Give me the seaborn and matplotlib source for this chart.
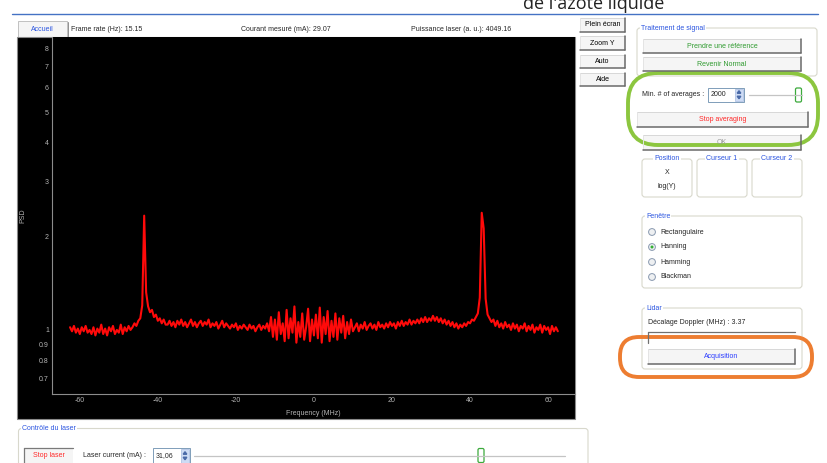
import numpy as np
import matplotlib
matplotlib.use("Agg")
import matplotlib.pyplot as plt
from matplotlib.patches import Rectangle, FancyBboxPatch, Circle, Polygon
from matplotlib.ticker import FixedLocator, FixedFormatter, MultipleLocator, NullLocator
import seaborn as sns

# --- spectre lu sur la capture : -62.5 -> 62.5 MHz, pas de 0.5 MHz ---
freq_start, freq_stop, freq_step = -62.5, 62.5, 0.5

# -62.5 .. -47.0 : ligne de base
psd_seg1 = [1.02, 0.99, 1.03, 0.98, 1.01, 0.97, 1.02, 0.99,
            1.03, 0.98, 1.00, 0.97, 1.02, 0.96, 1.01, 0.98,
            1.04, 0.97, 1.01, 0.96, 1.02, 0.99, 1.03, 0.97,
            1.00, 0.98, 1.04, 0.97, 1.02, 0.99, 1.03, 1.00]
# -46.5 .. -38.0 : pic de gauche
psd_seg2 = [1.02, 1.05, 1.03, 1.07, 1.09, 1.20, 2.33, 1.32, 1.19,
            1.14, 1.16, 1.10, 1.12, 1.07, 1.09, 1.05, 1.08, 1.04]
# -37.5 .. -11.5
psd_seg3 = [1.04, 1.07, 1.03, 1.06, 1.02, 1.07, 1.04, 1.08,
            1.03, 1.06, 1.02, 1.05, 1.08, 1.03, 1.06, 1.02,
            1.05, 1.07, 1.03, 1.06, 1.04, 1.08, 1.02, 1.05,
            1.03, 1.06, 1.01, 1.04, 1.07, 1.02, 1.05, 1.03,
            1.01, 1.04, 1.02, 1.05, 1.00, 1.03, 1.01, 1.04,
            1.02, 1.00, 1.04, 1.01, 1.03, 0.99, 1.02, 1.04,
            1.00, 1.03, 1.01, 1.05, 0.99]
# -11.0 .. 10.0 : zone bruitée autour de 0
psd_seg4 = [1.10, 0.95, 1.08, 0.93, 1.14, 0.97, 1.05, 0.92,
            1.16, 0.94, 1.09, 0.98, 1.19, 0.91, 1.06, 0.95,
            1.13, 0.93, 1.02, 1.17, 0.92, 1.08, 0.96, 1.12,
            0.94, 1.18, 0.91, 1.10, 0.97, 1.15, 0.92, 1.07,
            0.95, 1.13, 0.93, 1.09, 0.98, 1.11, 0.94, 1.06,
            0.97, 1.08, 0.99]
# 10.5 .. 41.5
psd_seg5 = [1.02, 1.05, 0.99, 1.04, 1.01, 1.06, 1.00, 1.03,
            1.05, 1.01, 1.04, 1.00, 1.06, 1.02, 1.04, 1.01,
            1.05, 1.02, 1.06, 1.03, 1.05, 1.01, 1.06, 1.03,
            1.07, 1.03, 1.06, 1.04, 1.08, 1.04, 1.07, 1.05,
            1.08, 1.05, 1.09, 1.06, 1.10, 1.06, 1.09, 1.07,
            1.11, 1.07, 1.10, 1.06, 1.09, 1.05, 1.08, 1.04,
            1.07, 1.03, 1.06, 1.02, 1.05, 1.01, 1.04, 1.02,
            1.05, 1.03, 1.06, 1.05, 1.08, 1.07, 1.10]
# 42.0 .. 46.0 : pic de droite
psd_seg6 = [1.13, 1.27, 2.38, 2.12, 1.26, 1.12, 1.09, 1.06, 1.08]
# 46.5 .. 62.5
psd_seg7 = [1.03, 1.07, 1.02, 1.05, 1.01, 1.06, 1.02, 1.04,
            1.00, 1.05, 1.01, 1.04, 0.99, 1.03, 1.01, 1.05,
            0.99, 1.03, 1.00, 1.04, 0.98, 1.02, 1.00, 1.04,
            0.98, 1.03, 1.00, 1.02, 0.97, 1.03, 0.99, 1.02,
            0.99]

psd = psd_seg1 + psd_seg2 + psd_seg3 + psd_seg4 + psd_seg5 + psd_seg6 + psd_seg7
freq = np.arange(freq_start, freq_stop + freq_step / 2, freq_step)
assert len(freq) == len(psd)

x_ticks = [-60, -40, -20, 0, 20, 40, 60]
y_ticks = [0.7, 0.8, 0.9, 1, 2, 3, 4, 5, 6, 7, 8]
y_tick_labels = ["0.7", "0.8", "0.9", "1", "2", "3", "4", "5", "6", "7", "8"]

# textes de l'interface
title_txt = "de l'azote liquide"
status_txt = ["Frame rate (Hz): 15.15", "Courant mesuré (mA): 29.07", "Puissance laser (a. u.): 4049.16"]
side_buttons = ["Plein écran", "Zoom Y", "Auto", "Aide"]
window_types = ["Rectangulaire", "Hanning", "Hamming", "Blackman"]

sns.set_theme(style="white")
plt.rcParams["font.family"] = ["Liberation Sans", "DejaVu Sans"]
plt.rcParams["axes.unicode_minus"] = False

W, H = 828, 463
fig = plt.figure(figsize=(W / 100, H / 100), dpi=100)
fig.patch.set_facecolor("white")

ui = fig.add_axes([0, 0, 1, 1])
ui.set_xlim(0, W)
ui.set_ylim(H, 0)
ui.axis("off")
ui.set_zorder(0)

fs = 5.0
blue = "#2b55e0"


def rect(x0, y0, x1, y1, **kw):
    ui.add_patch(Rectangle((x0, y0), x1 - x0, y1 - y0, **kw))


def button(x0, y0, x1, y1, label, color="black"):
    rect(x0, y0, x1, y1, facecolor="#f5f5f5", edgecolor="none")
    ui.plot([x0, x1], [y0, y0], color="#d8d8d8", lw=0.7)
    ui.plot([x0, x0], [y0, y1], color="#e4e4e4", lw=0.7)
    ui.plot([x0, x1], [y1, y1], color="#6a6a6a", lw=1.1)
    ui.plot([x1, x1], [y0, y1], color="#6a6a6a", lw=1.1)
    ui.text((x0 + x1) / 2, (y0 + y1) / 2, label, color=color, fontsize=fs, ha="center", va="center")


def groupbox(x0, y0, x1, y1, title, center=False):
    ui.add_patch(FancyBboxPatch((x0, y0), x1 - x0, y1 - y0,
                                boxstyle="round,pad=0,rounding_size=3",
                                fc="none", ec="#d8d8cc", lw=0.8))
    tx = (x0 + x1) / 2 if center else x0 + 4
    ui.text(tx, y0, title, color=blue, fontsize=fs, ha="center" if center else "left", va="center",
            bbox=dict(fc="white", ec="none", pad=0.8))


def spinbox(x0, y0, x1, y1, value):
    rect(x0, y0, x1, y1, facecolor="white", edgecolor="#7f9db9", lw=0.7)
    rect(x1 - 9, y0 + 1, x1 - 1, y1 - 1, facecolor="#cddbf4", edgecolor="#a6bbe0", lw=0.5)
    cx = x1 - 5
    cy = (y0 + y1) / 2
    ui.add_patch(Polygon([[cx - 1.8, cy - 1.5], [cx + 1.8, cy - 1.5], [cx, cy - 4]], color="#4a6aa8"))
    ui.add_patch(Polygon([[cx - 1.8, cy + 1.5], [cx + 1.8, cy + 1.5], [cx, cy + 4]], color="#4a6aa8"))
    ui.text(x0 + 3, cy, value, fontsize=fs, ha="left", va="center")


def slider(x0, x1, y, thumb_x):
    ui.plot([x0, x1], [y, y], color="#c4c4c4", lw=0.9)
    ui.add_patch(FancyBboxPatch((thumb_x - 3, y - 7), 6, 14, boxstyle="round,pad=0,rounding_size=1.5",
                                fc="white", ec="#3caa3c", lw=0.9))


# titre coupé et ligne bleue
ui.text(523, 9, title_txt, fontsize=13, family="Open Sans", ha="left", va="baseline", color="#222222")
ui.plot([12, 818], [13.5, 13.5], color="#4472c4", lw=1.0)

# barre du haut
rect(18, 21, 67, 38, facecolor="#f5f5f5", edgecolor="#b8b8b8", lw=0.6)
ui.text(42.5, 29.5, "Accueil", color=blue, fontsize=fs, ha="center", va="center")
ui.plot([68.5, 68.5], [22, 37], color="#909090", lw=0.7)
ui.text(71, 29.5, status_txt[0], fontsize=fs, ha="left", va="center")
ui.text(241.5, 29.5, status_txt[1], fontsize=fs, ha="left", va="center")
ui.text(411.5, 29.5, status_txt[2], fontsize=fs, ha="left", va="center")

# zone noire du graphe
rect(17.3, 36.5, 575, 418.5, facecolor="black", edgecolor="#8a8a8a", lw=0.8)

# boutons à droite du graphe
for i, lab in enumerate(side_buttons):
    y0 = 18 + i * 18.3
    button(580, y0, 625, y0 + 13.5, lab)

# traitement de signal
groupbox(637, 28, 817, 76, "Traitement de signal")
button(643, 39, 801, 53, "Prendre une référence", color="#2e9a2e")
button(643, 57, 801, 71, "Revenir Normal", color="#2e9a2e")
ui.text(642, 95, "Min. # of averages :", fontsize=fs, ha="left", va="center")
spinbox(708, 87.5, 744, 102, "2000")
slider(749, 802, 95, 798.5)
button(637, 112, 808, 127, "Stop averaging", color="#ff2a2a")
button(643, 135, 801, 150, "OK", color="#9a9a9a")

# position / curseurs
groupbox(642, 159, 692, 197, "Position", center=True)
ui.text(667, 172.5, "X", fontsize=fs, ha="center", va="center")
ui.text(667, 186, "log(Y)", fontsize=fs, ha="center", va="center")
groupbox(697, 159, 747, 197, "Curseur 1", center=True)
groupbox(752, 159, 802, 197, "Curseur 2", center=True)

# fenêtre
groupbox(642, 216, 802, 288, "Fenêtre")
for i, lab in enumerate(window_types):
    yy = 232 + i * 15
    ui.add_patch(Circle((652, yy), 3.4, fc="#eef0f2", ec="#8a9ab0", lw=0.7))
    if lab == "Hanning":
        ui.add_patch(Circle((652, yy), 1.5, fc="#34b034", ec="none"))
    ui.text(660, yy, lab, fontsize=fs, ha="left", va="center")

# lidar
groupbox(642, 308, 802, 369, "Lidar")
ui.text(648, 323, "Décalage Doppler (MHz) : 3.37", fontsize=fs, ha="left", va="center")
ui.plot([648, 795], [331.5, 331.5], color="#707070", lw=0.9)
ui.plot([648.5, 648.5], [331.5, 343], color="#707070", lw=0.9)
button(648, 349, 795, 364, "Acquisition", color="#2a3cff")

# contrôle du laser
groupbox(18.5, 428.5, 588, 480, "Contrôle du laser")
rect(24, 448, 73, 470, facecolor="#f5f5f5", edgecolor="none")
ui.plot([24, 73], [448, 448], color="#7a7a7a", lw=0.9)
ui.plot([24, 24], [448, 463], color="#7a7a7a", lw=0.9)
ui.text(48.5, 455.5, "Stop laser", color="#ff2a2a", fontsize=fs, ha="center", va="center")
ui.text(83, 455.5, "Laser current (mA) :", fontsize=fs, ha="left", va="center")
spinbox(153, 447.5, 190, 464, "31,06")
slider(194, 565, 455.5, 481)

# annotations (ellipses verte et orange)
ui.add_patch(FancyBboxPatch((628, 73), 190, 72, boxstyle="round,pad=0,rounding_size=30",
                            fc="none", ec="#8cc63f", lw=2.8))
ui.add_patch(FancyBboxPatch((620, 337), 192, 40, boxstyle="round,pad=0,rounding_size=19",
                            fc="none", ec="#ed7d31", lw=2.8))

# --- le graphe ---
ax_l, ax_r, ax_t, ax_b = 51.7, 575, 37, 394.3
ax = fig.add_axes([ax_l / W, 1 - ax_b / H, (ax_r - ax_l) / W, (ax_b - ax_t) / H])
ax.set_zorder(2)
ax.set_facecolor("black")
sns.lineplot(x=freq, y=psd, ax=ax, color="#ff0a0a", linewidth=1.5, estimator=None)

ax.set_yscale("log")
ax.set_xlim(-67.2, 66.9)
ax.set_ylim(0.621, 8.74)
ax.xaxis.set_major_locator(FixedLocator(x_ticks))
ax.xaxis.set_minor_locator(MultipleLocator(10))
ax.yaxis.set_major_locator(FixedLocator(y_ticks))
ax.yaxis.set_major_formatter(FixedFormatter(y_tick_labels))
ax.yaxis.set_minor_locator(NullLocator())

for s in ["top", "right"]:
    ax.spines[s].set_visible(False)
for s in ["left", "bottom"]:
    ax.spines[s].set_color("#8c8c8c")
    ax.spines[s].set_linewidth(0.8)

ax.tick_params(axis="both", which="both", direction="in", colors="#8c8c8c",
               labelcolor="#b4b4b4", labelsize=5, width=0.6, pad=2)
ax.tick_params(which="major", length=3)
ax.tick_params(which="minor", length=2)
ax.set_xlabel("Frequency (MHz)", color="#b4b4b4", fontsize=5, labelpad=4)
ax.set_ylabel("PSD", color="#b4b4b4", fontsize=5, labelpad=9)
ax.grid(False)

fig.savefig("out.png", dpi=100)
